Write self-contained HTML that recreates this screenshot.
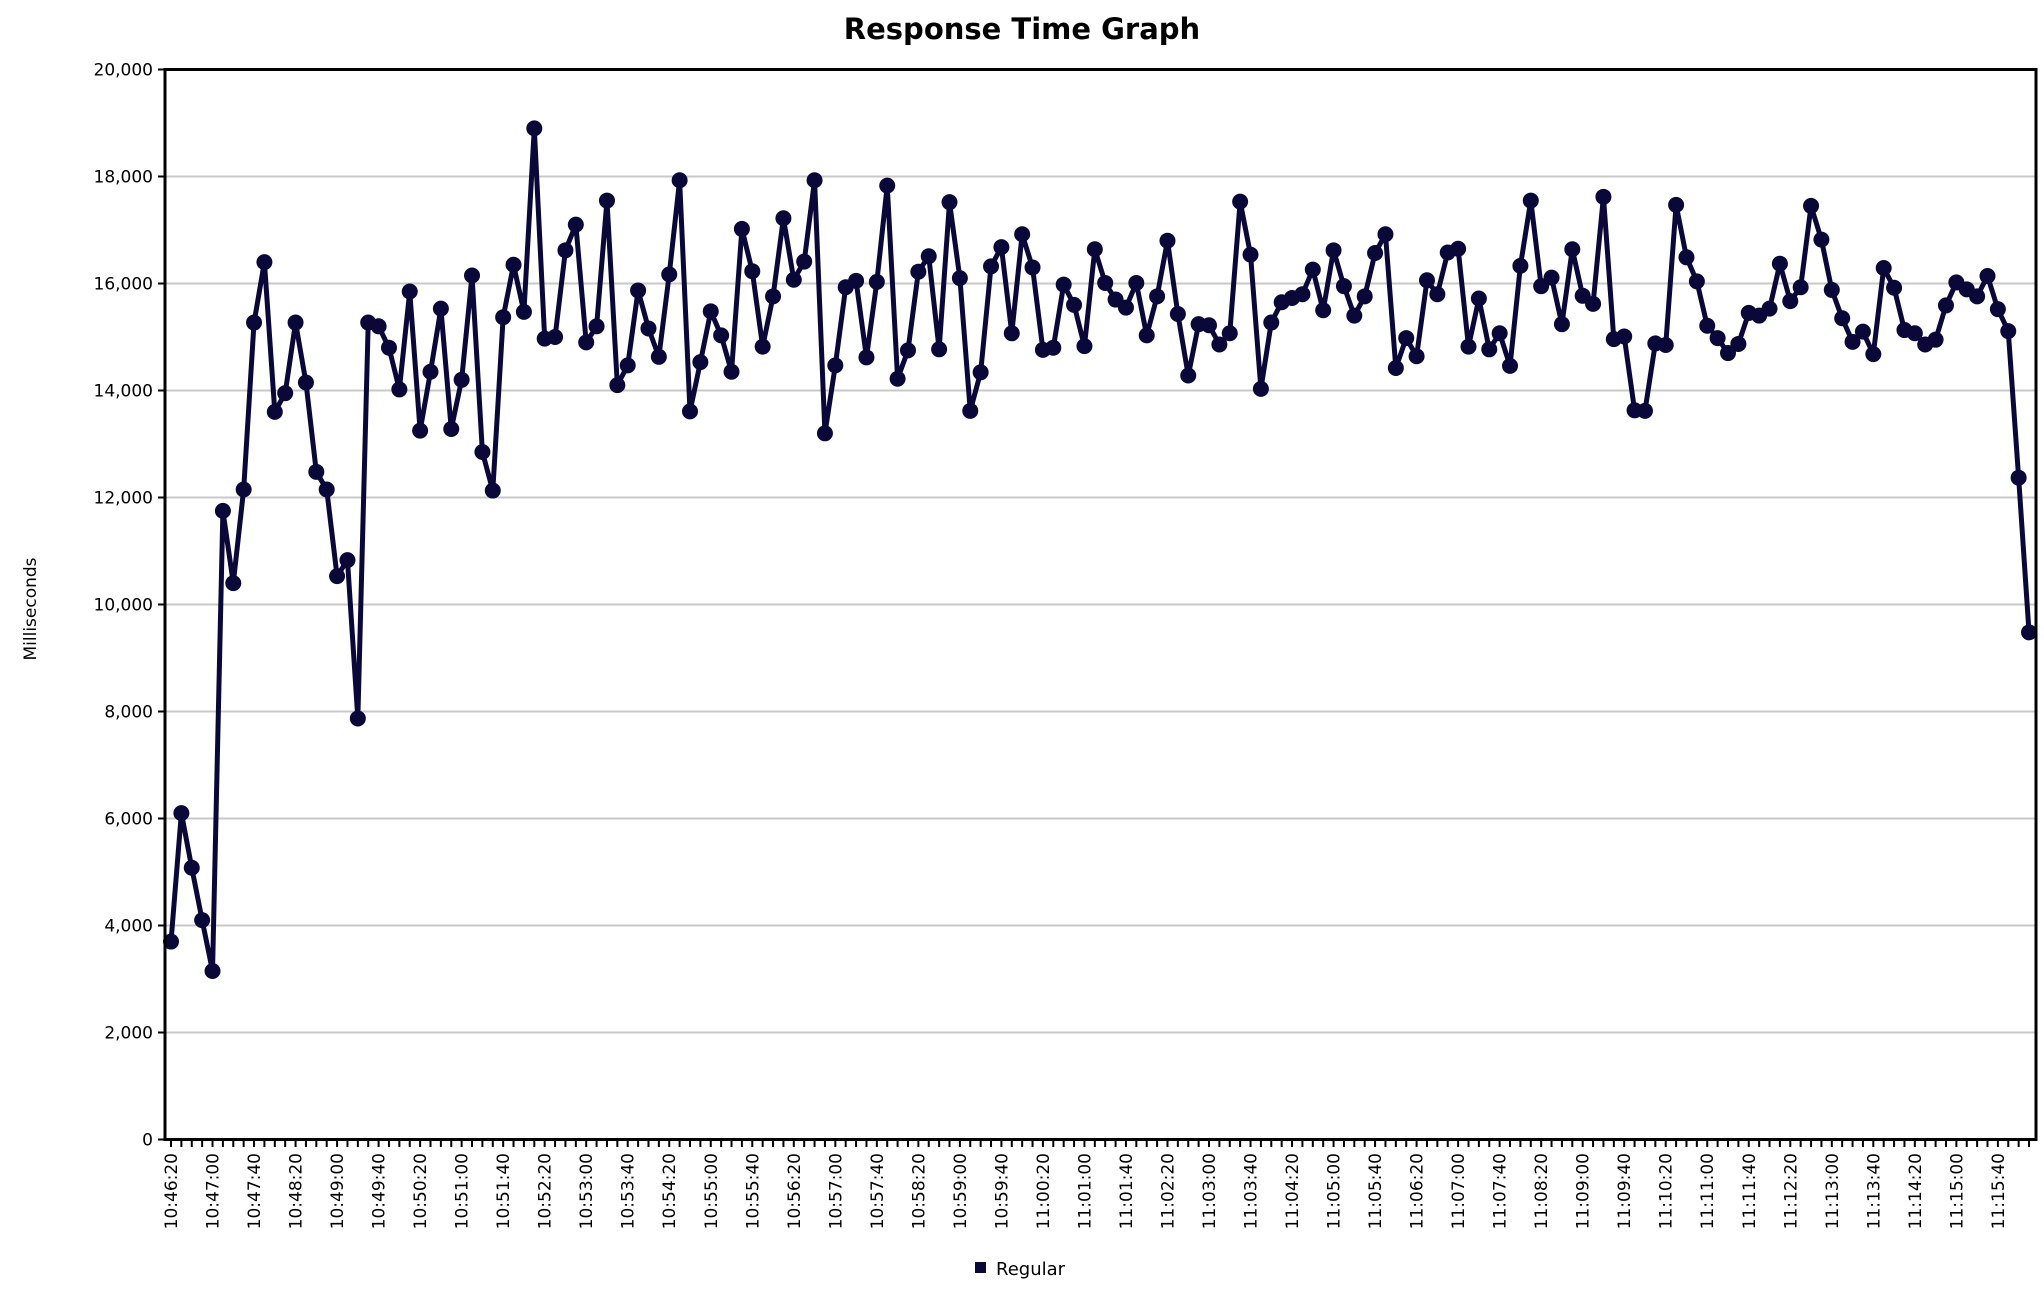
<!DOCTYPE html>
<html><head><meta charset="utf-8"><style>
html,body{margin:0;padding:0;background:#fff;}
svg{display:block;font-family:"DejaVu Sans","Liberation Sans",sans-serif;}
</style></head><body>
<svg id="chart" width="2044" height="1302" viewBox="0 0 2044 1302" xmlns="http://www.w3.org/2000/svg">
<rect width="2044" height="1302" fill="#fff"/>
<text x="1022" y="39" text-anchor="middle" font-size="29" font-weight="bold" fill="#000">Response Time Graph</text>
<text transform="translate(36,609) rotate(-90)" text-anchor="middle" font-size="17" fill="#000">Milliseconds</text>
<g id="grid"></g>
<g id="yaxis"></g>
<g id="xaxis"></g>
<g id="series"></g>
<rect x="165" y="69.5" width="1871" height="1070" fill="none" stroke="#000" stroke-width="3"/>
<g>
<rect x="975" y="1262" width="11" height="11" fill="#0a0838"/>
<text x="996" y="1275" font-size="18" fill="#000">Regular</text>
</g>
</svg>
<script>
const values=[3700,6100,5080,4100,3150,11750,10400,12150,15270,16400,13600,13950,15270,14150,12480,12150,10530,10830,7870,15270,
15200,14800,14020,15850,13250,14350,15530,13280,14200,16150,12850,12130,15370,16350,15470,18900,14970,15000,16620,17100,
14900,15200,17550,14100,14470,15870,15160,14630,16170,17930,13610,14530,15480,15030,14350,17020,16230,14820,15760,17220,
16070,16410,17930,13200,14470,15930,16050,14620,16030,17830,14220,14750,16220,16510,14770,17520,16100,13620,14340,16320,
16680,15070,16920,16300,14760,14800,15980,15600,14830,16640,16010,15700,15550,16010,15030,15760,16800,15430,14280,15240,
15220,14860,15070,17530,16540,14030,15270,15650,15730,15800,16260,15500,16620,15950,15400,15760,16570,16920,14420,14980,
14640,16060,15800,16580,16650,14820,15720,14770,15070,14460,16330,17550,15950,16110,15240,16640,15770,15620,17620,14960,
15010,13630,13620,14880,14850,17470,16490,16040,15210,14980,14700,14870,15450,15400,15530,16370,15670,15930,17450,16820,
15880,15350,14910,15100,14680,16290,15920,15130,15070,14860,14950,15590,16020,15890,15760,16140,15520,15110,12370,9480];
const yTicks=[0,2000,4000,6000,8000,10000,12000,14000,16000,18000,20000];
const startSec=10*3600+46*60+20;
const stepSec=10;
const NS="http://www.w3.org/2000/svg";
const x0=171, dx=10.38, yTop=69.5, yBot=1139.5, yMax=20000;
function xs(i){return x0+i*dx;}
function ys(v){return yBot-(v/yMax)*(yBot-yTop);}
function mk(t,a,p){const e=document.createElementNS(NS,t);for(const k in a)e.setAttribute(k,a[k]);p.appendChild(e);return e;}
function fmt(s){const h=Math.floor(s/3600),m=Math.floor(s%3600/60),ss=s%60;return h+":"+String(m).padStart(2,"0")+":"+String(ss).padStart(2,"0");}
const grid=document.getElementById('grid'),ya=document.getElementById('yaxis'),xa=document.getElementById('xaxis'),se=document.getElementById('series');
yTicks.forEach(v=>{
  const y=ys(v);
  if(v>0&&v<yMax){const g=mk('line',{x1:165,x2:2036,y1:y,y2:y,stroke:'#c8c8c8','stroke-width':2},grid);
  
  }
  const t=mk('line',{x1:158,x2:165,y1:y,y2:y,stroke:'#000','stroke-width':2},ya);
  
  
  const l=mk('text',{x:153,y:y+6,'text-anchor':'end','font-size':17,fill:'#000'},ya);
  
  
  l.textContent=v.toLocaleString('en-US');
});
for(let i=0;i<values.length+1;i++){
  const x=xs(i); if(x>2034)break;
  const t=mk('line',{x1:x,x2:x,y1:1140,y2:1147,stroke:'#000','stroke-width':2},xa);
  
  
  if(i%4===0){
    const l=mk('text',{transform:'translate('+(x+6)+',1153) rotate(-90)','text-anchor':'end','font-size':17,fill:'#000'},xa);
    
    
    l.textContent=fmt(startSec+i*stepSec);
  }
}
const pl=mk('polyline',{points:values.map((v,i)=>xs(i)+','+ys(v)).join(' '),fill:'none',stroke:'#0a0838','stroke-width':5,'stroke-linejoin':'round'},se);


values.forEach((v,i)=>{
  const c=mk('circle',{cx:xs(i),cy:ys(v),r:8,fill:'#0a0838'},se);
  
  
});
</script>
</body></html>
